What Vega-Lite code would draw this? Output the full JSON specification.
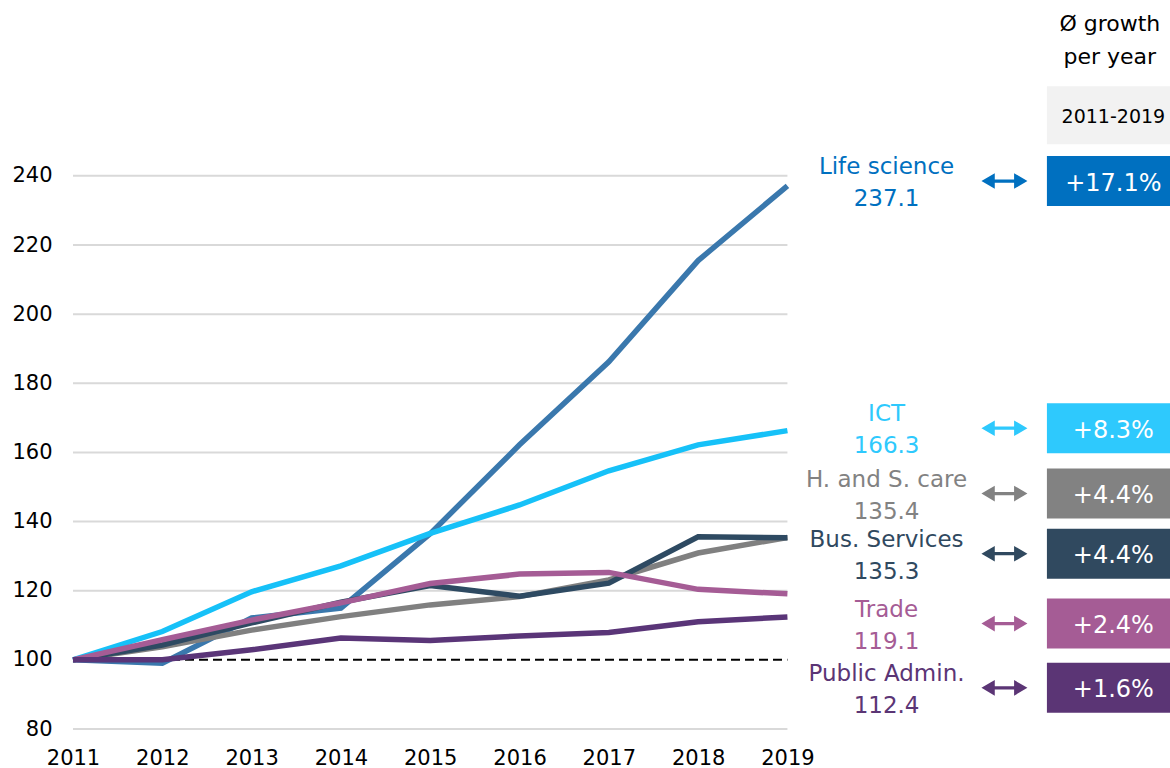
{
  "$schema": "https://vega.github.io/schema/vega-lite/v6.json",
  "width": 1097,
  "height": 726,
  "autosize": {"type": "none"},
  "padding": {"left": 73, "top": 3, "right": 0, "bottom": 39},
  "background": "white",
  "config": {"view": {"stroke": null}, "font": "DejaVu Sans"},
  "datasets": {
    "lines": [
      {"series": "Life science", "year": 2011, "value": 100},
      {"series": "Life science", "year": 2012, "value": 99.0},
      {"series": "Life science", "year": 2013, "value": 112.1},
      {"series": "Life science", "year": 2014, "value": 115.0},
      {"series": "Life science", "year": 2015, "value": 136.5},
      {"series": "Life science", "year": 2016, "value": 162.2},
      {"series": "Life science", "year": 2017, "value": 186.2},
      {"series": "Life science", "year": 2018, "value": 215.5},
      {"series": "Life science", "year": 2019, "value": 237.1},
      {"series": "H. and S. care", "year": 2011, "value": 100},
      {"series": "H. and S. care", "year": 2012, "value": 103.8},
      {"series": "H. and S. care", "year": 2013, "value": 108.6},
      {"series": "H. and S. care", "year": 2014, "value": 112.5},
      {"series": "H. and S. care", "year": 2015, "value": 115.9},
      {"series": "H. and S. care", "year": 2016, "value": 118.3},
      {"series": "H. and S. care", "year": 2017, "value": 123.1},
      {"series": "H. and S. care", "year": 2018, "value": 130.9},
      {"series": "H. and S. care", "year": 2019, "value": 135.4},
      {"series": "Bus. Services", "year": 2011, "value": 100},
      {"series": "Bus. Services", "year": 2012, "value": 104.3},
      {"series": "Bus. Services", "year": 2013, "value": 110.7},
      {"series": "Bus. Services", "year": 2014, "value": 116.7},
      {"series": "Bus. Services", "year": 2015, "value": 121.5},
      {"series": "Bus. Services", "year": 2016, "value": 118.4},
      {"series": "Bus. Services", "year": 2017, "value": 122.2},
      {"series": "Bus. Services", "year": 2018, "value": 135.6},
      {"series": "Bus. Services", "year": 2019, "value": 135.3},
      {"series": "ICT", "year": 2011, "value": 100},
      {"series": "ICT", "year": 2012, "value": 108.2},
      {"series": "ICT", "year": 2013, "value": 119.7},
      {"series": "ICT", "year": 2014, "value": 127.2},
      {"series": "ICT", "year": 2015, "value": 136.6},
      {"series": "ICT", "year": 2016, "value": 144.8},
      {"series": "ICT", "year": 2017, "value": 154.7},
      {"series": "ICT", "year": 2018, "value": 162.2},
      {"series": "ICT", "year": 2019, "value": 166.3},
      {"series": "Trade", "year": 2011, "value": 100},
      {"series": "Trade", "year": 2012, "value": 105.8},
      {"series": "Trade", "year": 2013, "value": 111.5},
      {"series": "Trade", "year": 2014, "value": 116.5},
      {"series": "Trade", "year": 2015, "value": 122.1},
      {"series": "Trade", "year": 2016, "value": 124.8},
      {"series": "Trade", "year": 2017, "value": 125.3},
      {"series": "Trade", "year": 2018, "value": 120.4},
      {"series": "Trade", "year": 2019, "value": 119.1},
      {"series": "Public Admin.", "year": 2011, "value": 100},
      {"series": "Public Admin.", "year": 2012, "value": 100.0},
      {"series": "Public Admin.", "year": 2013, "value": 102.9},
      {"series": "Public Admin.", "year": 2014, "value": 106.3},
      {"series": "Public Admin.", "year": 2015, "value": 105.6},
      {"series": "Public Admin.", "year": 2016, "value": 106.9},
      {"series": "Public Admin.", "year": 2017, "value": 107.9},
      {"series": "Public Admin.", "year": 2018, "value": 111.0},
      {"series": "Public Admin.", "year": 2019, "value": 112.4}
    ],
    "labels": [
      {"series": "Life science", "last": "237.1", "growth": "+17.1%", "pos": 238.5},
      {"series": "ICT", "last": "166.3", "growth": "+8.3%", "pos": 167.0},
      {"series": "H. and S. care", "last": "135.4", "growth": "+4.4%", "pos": 148.1},
      {"series": "Bus. Services", "last": "135.3", "growth": "+4.4%", "pos": 130.7},
      {"series": "Trade", "last": "119.1", "growth": "+2.4%", "pos": 110.5},
      {"series": "Public Admin.", "last": "112.4", "growth": "+1.6%", "pos": 91.9}
    ],
    "grid": [{"v": 80}, {"v": 120}, {"v": 140}, {"v": 160}, {"v": 180}, {"v": 200}, {"v": 220}, {"v": 240}],
    "base": [{"v": 100}],
    "header": [{"title": ["Ø growth", "per year"], "period": "2011-2019"}]
  },
  "layer": [
    {
      "data": {"name": "grid"},
      "mark": {"type": "rule", "stroke": "#d9d9d9", "strokeWidth": 2},
      "encoding": {
        "x": {"datum": 2011, "type": "quantitative", "scale": {"domain": [2011, 2023.284], "nice": false, "zero": false},
          "axis": {"values": [2011, 2012, 2013, 2014, 2015, 2016, 2017, 2018, 2019], "format": "d", "title": null, "domain": false, "ticks": false, "grid": false, "labelFlush": false, "labelOverlap": false, "labelFontSize": 21, "labelColor": "#000000", "labelPadding": 18, "labelFont": "DejaVu Sans"}},
        "x2": {"datum": 2019},
        "y": {"field": "v", "type": "quantitative", "scale": {"domain": [80, 290], "nice": false, "zero": false},
          "axis": {"values": [80, 100, 120, 140, 160, 180, 200, 220, 240], "title": null, "domain": false, "ticks": false, "grid": false, "labelFlush": false, "labelFontSize": 21, "labelColor": "#000000", "labelPadding": 21, "labelFont": "DejaVu Sans"}}
      }
    },
    {
      "data": {"name": "base"},
      "mark": {"type": "rule", "stroke": "#000000", "strokeWidth": 2, "strokeDash": [9, 5]},
      "encoding": {
        "x": {"datum": 2011, "type": "quantitative"},
        "x2": {"datum": 2019},
        "y": {"field": "v", "type": "quantitative"}
      }
    },
    {
      "data": {"name": "lines"},
      "mark": {"type": "line", "strokeWidth": 5.5, "strokeCap": "butt"},
      "encoding": {
        "x": {"field": "year", "type": "quantitative"},
        "y": {"field": "value", "type": "quantitative"},
        "stroke": {"field": "series", "type": "nominal", "legend": null, "sort": null,
          "scale": {"domain": ["Life science", "H. and S. care", "Bus. Services", "ICT", "Trade", "Public Admin."],
                    "range": ["#3a78ad", "#808080", "#2e4a62", "#16c1f8", "#a55c95", "#5a3578"]}}
      }
    },
    {
      "data": {"name": "header"},
      "mark": {"type": "text", "fontSize": 22, "align": "center", "baseline": "alphabetic", "lineHeight": 32.5, "color": "#000000"},
      "encoding": {
        "x": {"datum": 2022.61, "type": "quantitative"},
        "y": {"datum": 281.8, "type": "quantitative"},
        "text": {"field": "title"}
      }
    },
    {
      "data": {"name": "header"},
      "mark": {"type": "rect", "color": "#f2f2f2", "width": 124, "height": 58},
      "encoding": {
        "x": {"datum": 2022.6, "type": "quantitative"},
        "y": {"datum": 257.5, "type": "quantitative"}
      }
    },
    {
      "data": {"name": "header"},
      "mark": {"type": "text", "fontSize": 19, "align": "center", "baseline": "alphabetic", "color": "#000000"},
      "encoding": {
        "x": {"datum": 2022.65, "type": "quantitative"},
        "y": {"datum": 255.3, "type": "quantitative"},
        "text": {"field": "period"}
      }
    },
    {
      "data": {"name": "labels"},
      "mark": {"type": "rect", "width": 124, "height": 50},
      "encoding": {
        "x": {"datum": 2022.6, "type": "quantitative"},
        "y": {"field": "pos", "type": "quantitative"},
        "fill": {"field": "series", "type": "nominal", "legend": null,
          "scale": {"domain": ["Life science", "ICT", "H. and S. care", "Bus. Services", "Trade", "Public Admin."],
                    "range": ["#0070c0", "#2ec9fd", "#828282", "#30495f", "#a55c95", "#5b3575"]}}
      }
    },
    {
      "data": {"name": "labels"},
      "mark": {"type": "text", "fontSize": 24, "align": "center", "baseline": "alphabetic", "dy": 9.5, "color": "#ffffff"},
      "encoding": {
        "x": {"datum": 2022.65, "type": "quantitative"},
        "y": {"field": "pos", "type": "quantitative"},
        "text": {"field": "growth"}
      }
    },
    {
      "data": {"name": "labels"},
      "mark": {"type": "point", "filled": true, "opacity": 1, "strokeWidth": 0, "size": 2116,
        "shape": "M -1 0 L -0.42 -0.34 L -0.42 -0.07 L 0.42 -0.07 L 0.42 -0.34 L 1 0 L 0.42 0.34 L 0.42 0.07 L -0.42 0.07 L -0.42 0.34 Z"},
      "encoding": {
        "x": {"datum": 2021.43, "type": "quantitative"},
        "y": {"field": "pos", "type": "quantitative"},
        "fill": {"field": "series", "type": "nominal", "legend": null}
      }
    },
    {
      "data": {"name": "labels"},
      "mark": {"type": "text", "fontSize": 23, "align": "center", "baseline": "alphabetic", "dy": -7},
      "encoding": {
        "x": {"datum": 2020.11, "type": "quantitative"},
        "y": {"field": "pos", "type": "quantitative"},
        "text": {"field": "series"},
        "fill": {"field": "series", "type": "nominal", "legend": null}
      }
    },
    {
      "data": {"name": "labels"},
      "mark": {"type": "text", "fontSize": 23, "align": "center", "baseline": "alphabetic", "dy": 25},
      "encoding": {
        "x": {"datum": 2020.11, "type": "quantitative"},
        "y": {"field": "pos", "type": "quantitative"},
        "text": {"field": "last"},
        "fill": {"field": "series", "type": "nominal", "legend": null}
      }
    }
  ]
}
